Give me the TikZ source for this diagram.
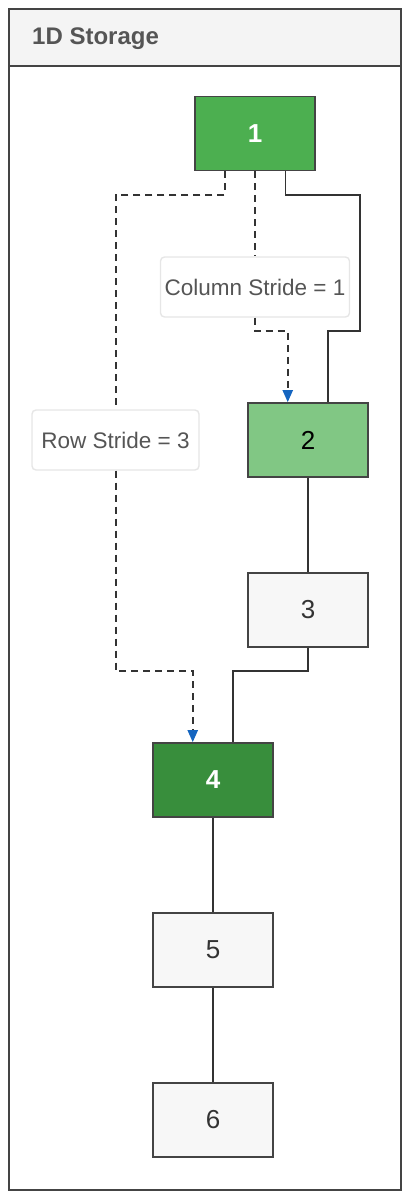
\documentclass[tikz,border=0pt]{standalone}
\usepackage{fontspec}
\setmainfont{Liberation Sans}
\usetikzlibrary{arrows.meta,calc}
\definecolor{gA}{HTML}{4CAF50}
\definecolor{gB}{HTML}{81C784}
\definecolor{gC}{HTML}{388E3C}
\definecolor{cellfill}{HTML}{F7F7F7}
\definecolor{boxline}{HTML}{444444}
\definecolor{frameline}{HTML}{444444}
\definecolor{hdrfill}{HTML}{F4F4F4}
\definecolor{hdrtext}{HTML}{555555}
\definecolor{lblline}{HTML}{E6E6E6}
\definecolor{lbltext}{HTML}{555555}
\definecolor{connline}{HTML}{333333}
\definecolor{arrowblue}{HTML}{1565C0}
\definecolor{numtext}{HTML}{333333}
\begin{document}
\begin{tikzpicture}[x=1pt,y=-1pt,
  cell/.style={draw=boxline,line width=1.6pt,minimum width=120pt,minimum height=74pt,inner sep=0pt,
    font=\fontsize{26}{29}\selectfont},
  plaincell/.style={cell,fill=cellfill,text=numtext},
  lbl/.style={draw=lblline,fill=white,rounded corners=4pt,line width=1.4pt,minimum height=60pt,
    inner sep=0pt,text=lbltext,font=\fontsize{22.5}{26}\selectfont},
  conn/.style={draw=connline,line width=1.8pt},
  dconn/.style={conn,line width=2pt,dash pattern=on 7pt off 5pt},
  tip/.style={-{Triangle[width=10pt,length=12pt,color=arrowblue]}}]
\useasboundingbox (0,0) rectangle (414,1198);
% frame and header
\node[draw=frameline,line width=1.8pt,minimum width=392pt,minimum height=1181pt,inner sep=0pt,
  anchor=north west] (frame) at (8,8) {};
\node[draw=frameline,fill=hdrfill,line width=1.8pt,minimum width=392pt,minimum height=57pt,inner sep=0pt,
  anchor=north west] (hdr) at (8,8) {};
\node[anchor=base west,inner sep=0pt,text=hdrtext,font=\fontsize{24}{27}\selectfont\bfseries] (title) at (32,45) {1D Storage};
% cells
\node[cell,fill=gA,text=white,font=\fontsize{26}{29}\selectfont\bfseries] (n1) at (255,133.5) {1};
\node[cell,fill=gB,text=black] (n2) at (308,440) {2};
\node[plaincell] (n3) at (308,610) {3};
\node[cell,fill=gC,text=white,font=\fontsize{26}{29}\selectfont\bfseries] (n4) at (213,780) {4};
\node[plaincell] (n5) at (213,950) {5};
\node[plaincell] (n6) at (213,1120) {6};
% labels
\node[lbl,minimum width=189pt] (col) at (255,287) {Column Stride = 1};
\node[lbl,minimum width=167pt] (row) at (115.5,440) {Row Stride = 3};
% helper coordinates
\coordinate (n1a) at ($(n1.south west)!0.25!(n1.south east)$);
\coordinate (n1c) at ($(n1.south west)!0.75!(n1.south east)$);
\coordinate (n2a) at ($(n2.north west)!1/3!(n2.north east)$);
\coordinate (n2b) at ($(n2.north west)!2/3!(n2.north east)$);
\coordinate (n4a) at ($(n4.north west)!1/3!(n4.north east)$);
\coordinate (n4b) at ($(n4.north west)!2/3!(n4.north east)$);
\coordinate (yA) at (0,195);
\coordinate (yB) at (0,331);
\coordinate (yC) at (0,671);
\coordinate (xR) at (360,0);
% solid connectors
\draw[conn] (n1c) |- (xR |- yA) |- (n2b |- yB) -- (n2b);
\draw[conn] (n2.south) -- (n3.north);
\draw[conn] (n3.south) |- (n4b |- yC) -- (n4b);
\draw[conn] (n4.south) -- (n5.north);
\draw[conn] (n5.south) -- (n6.north);
% dashed stride connectors
\draw[dconn] (n1.south) -- (col.north);
\draw[dconn,tip] (col.south) |- (n2a |- yB) -- (n2a);
\draw[dconn] (n1a) |- (row.north |- yA) -- (row.north);
\draw[dconn,tip] (row.south) |- (n4a |- yC) -- (n4a);
\end{tikzpicture}
\end{document}
